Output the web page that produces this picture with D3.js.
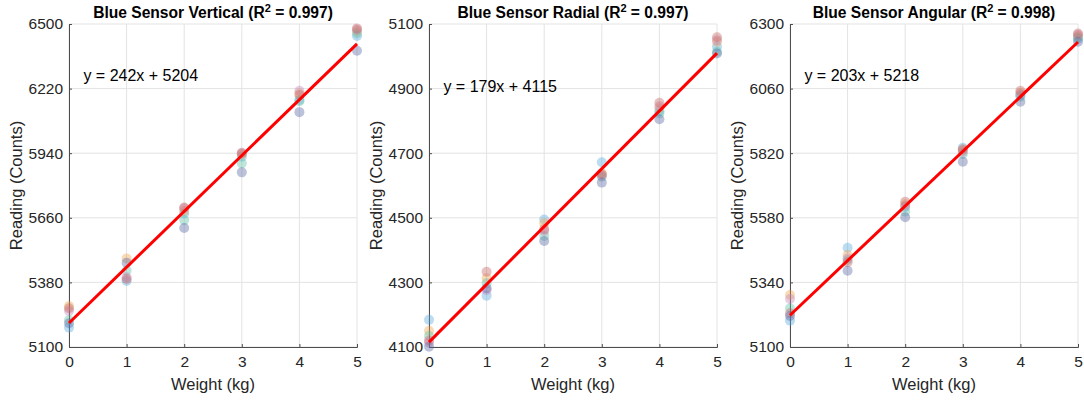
<!DOCTYPE html>
<html>
<head>
<meta charset="utf-8">
<script src="https://d3js.org/d3.v7.min.js"></script>
<style>
  body { margin: 0; background: #fff; }
  svg { font-family: "Liberation Sans", Arial, Helvetica, sans-serif; }
</style>
</head>
<body>
<div id="chart"></div>
<script>
// weights on the x axis
var weights = [0, 1, 2, 3, 4, 5];

// one colour per trial series
var seriesColors = ["#55a8dc", "#eea24e", "#5cc0a4", "#c585b8", "#c4625e", "#5667a3"];

// panel names, fit results and axis ticks
var panelNames = ["Vertical", "Radial", "Angular"];
var rSquared = ["0.997", "0.997", "0.998"];
var slopes = [242, 179, 203];
var intercepts = [5204, 4115, 5218];
var yTicks = [
    [5100, 5380, 5660, 5940, 6220, 6500],
    [4100, 4300, 4500, 4700, 4900, 5100],
    [5100, 5340, 5580, 5820, 6060, 6300]
];
// where the equation label sits, in data units
var eqX = [0.25, 0.25, 0.25];
var eqY = [6253, 4889, 6088];

// readings, one row per series, one value per weight
var verticalReadings = [
    [5184, 5386, 5679, 5925, 6171, 6448],
    [5278, 5484, 5690, 5935, 6200, 6470],
    [5217, 5431, 5650, 5896, 6165, 6460],
    [5256, 5402, 5701, 5942, 6211, 6475],
    [5268, 5395, 5705, 5940, 6192, 6481],
    [5203, 5465, 5616, 5857, 6118, 6384]
];
var radialReadings = [
    [4184, 4259, 4495, 4672, 4830, 5030],
    [4150, 4313, 4483, 4638, 4839, 5045],
    [4134, 4297, 4444, 4627, 4823, 5014],
    [4113, 4276, 4459, 4630, 4845, 5050],
    [4120, 4333, 4465, 4635, 4856, 5059],
    [4101, 4282, 4428, 4609, 4805, 5009]
];
var angularReadings = [
    [5198, 5469, 5620, 5840, 6035, 6245],
    [5293, 5442, 5630, 5830, 6045, 6255],
    [5244, 5423, 5603, 5817, 6030, 6250],
    [5278, 5430, 5625, 5825, 6040, 6260],
    [5225, 5415, 5640, 5835, 6052, 6265],
    [5215, 5383, 5582, 5788, 6011, 6234]
];
var readings = [verticalReadings, radialReadings, angularReadings];

var width = 1084, height = 403;
var plotLeft = [69, 429, 790],
    plotWidth = 288,
    plotTop = 24,
    plotBottom = 347;

var svg = d3.select("#chart").append("svg")
    .attr("width", width)
    .attr("height", height);

panelNames.forEach(function(name, p) {
    var ticks = yTicks[p];
    var x = d3.scaleLinear()
        .domain([0, 5])
        .range([plotLeft[p], plotLeft[p] + plotWidth]);
    var y = d3.scaleLinear()
        .domain([ticks[0], ticks[ticks.length - 1]])
        .range([plotBottom, plotTop]);

    var g = svg.append("g").attr("class", "panel");

    // grid
    g.append("g").selectAll("line.vgrid")
        .data(weights)
        .enter().append("line")
        .attr("x1", function(d) { return x(d); })
        .attr("x2", function(d) { return x(d); })
        .attr("y1", plotTop)
        .attr("y2", plotBottom)
        .style("stroke", "#e3e3e3")
        .style("stroke-width", 1);
    g.append("g").selectAll("line.hgrid")
        .data(ticks)
        .enter().append("line")
        .attr("x1", x(0))
        .attr("x2", x(5))
        .attr("y1", function(d) { return y(d); })
        .attr("y2", function(d) { return y(d); })
        .style("stroke", "#e3e3e3")
        .style("stroke-width", 1);

    // axes
    var xAxis = d3.axisBottom(x).tickValues(weights).tickFormat(d3.format("d"))
        .tickSize(-3).tickPadding(9);
    var yAxis = d3.axisLeft(y).tickValues(ticks).tickFormat(d3.format("d"))
        .tickSize(-3).tickPadding(6);

    var gx = g.append("g")
        .attr("transform", "translate(0," + plotBottom + ")")
        .call(xAxis);
    var gy = g.append("g")
        .attr("transform", "translate(" + plotLeft[p] + ",0)")
        .call(yAxis);

    [gx, gy].forEach(function(a) {
        a.select(".domain").style("stroke", "#4d4d4d");
        a.selectAll(".tick line").style("stroke", "#4d4d4d");
        a.selectAll(".tick text")
            .style("font-size", "15.5px")
            .style("fill", "#262626")
            .style("font-family", "Liberation Sans, Arial, sans-serif");
    });

    // points
    readings[p].forEach(function(series, s) {
        g.append("g").selectAll("circle")
            .data(series)
            .enter().append("circle")
            .attr("cx", function(d, i) { return x(weights[i]); })
            .attr("cy", function(d) { return y(d); })
            .attr("r", 5)
            .style("fill", seriesColors[s])
            .style("fill-opacity", 0.4);
    });

    // fit line
    g.append("line")
        .attr("x1", x(0))
        .attr("y1", y(intercepts[p]))
        .attr("x2", x(5))
        .attr("y2", y(intercepts[p] + slopes[p] * 5))
        .style("stroke", "#ff0000")
        .style("stroke-width", 3);

    // equation
    g.append("text")
        .attr("x", x(eqX[p]))
        .attr("y", y(eqY[p]))
        .style("font-size", "16px")
        .style("fill", "#000")
        .text("y = " + slopes[p] + "x + " + intercepts[p]);

    // title
    var title = g.append("text")
        .attr("x", plotLeft[p] + plotWidth / 2)
        .attr("y", 18)
        .attr("text-anchor", "middle")
        .style("font-size", "15.6px")
        .style("font-weight", "bold")
        .style("fill", "#000");
    title.append("tspan").text("Blue Sensor " + name + " (R");
    title.append("tspan").attr("dy", -6).style("font-size", "11px").text("2");
    title.append("tspan").attr("dy", 6).text(" = " + rSquared[p] + ")");

    // axis labels
    g.append("text")
        .attr("x", plotLeft[p] + plotWidth / 2)
        .attr("y", 390)
        .attr("text-anchor", "middle")
        .style("font-size", "16.5px")
        .style("fill", "#262626")
        .text("Weight (kg)");
    g.append("text")
        .attr("transform", "translate(" + (plotLeft[p] - 47) + "," + ((plotTop + plotBottom) / 2) + ") rotate(-90)")
        .attr("text-anchor", "middle")
        .style("font-size", "16.5px")
        .style("fill", "#262626")
        .text("Reading (Counts)");
});
</script>
</body>
</html>
